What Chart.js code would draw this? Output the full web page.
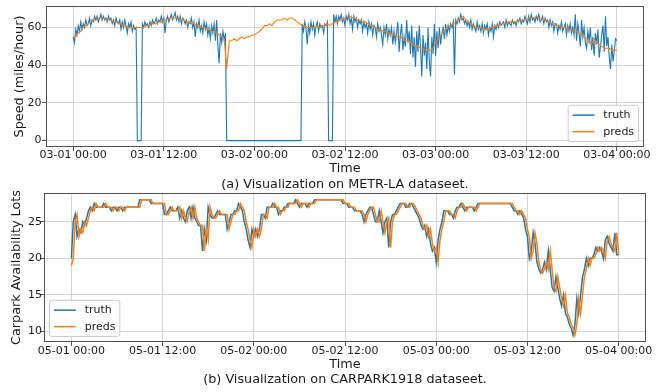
<!DOCTYPE html>
<html>
<head>
<meta charset="utf-8">
<script src="https://cdn.jsdelivr.net/npm/chart.js@4.4.1/dist/chart.umd.min.js"></script>
<style>
  html, body { margin: 0; padding: 0; background: #ffffff; }
  body { width: 670px; height: 392px; position: relative; overflow: hidden; }
  canvas { position: absolute; left: 0; }
  #speedChart { top: 0; }
  #carparkChart { top: 188px; }
</style>
</head>
<body>
<canvas id="speedChart" width="670" height="196"></canvas>
<canvas id="carparkChart" width="670" height="204"></canvas>
<script>
// ---- tick positions (hours from the start of each window) and their labels ----
const tickHours = [0, 12, 24, 36, 48, 60, 72];
const speedTickLabels = ['03-01 00:00', '03-01 12:00', '03-02 00:00', '03-02 12:00', '03-03 00:00', '03-03 12:00', '03-04 00:00'];
const carparkTickLabels = ['05-01 00:00', '05-01 12:00', '05-02 00:00', '05-02 12:00', '05-03 00:00', '05-03 12:00', '05-04 00:00'];

// ---- METR-LA sensor speed, truth every 10 minutes (one row per hour) ----
const speedTruthStepMinutes = 10;
const speedTruth = [
  55, 52, 59, 56, 61, 58,
  63, 59, 62, 60, 64, 61,
  62, 65, 61, 64, 63, 66,
  64, 66, 63, 65, 67, 64,
  66, 64, 65, 63, 66, 64,
  65, 62, 64, 61, 65, 63,
  62, 64, 59, 63, 60, 64,
  61, 57, 62, 60, 63, 58,
  61, 59, 60, 0, 0, 0,
  0, 62, 60, 63, 61, 62,
  60, 63, 61, 64, 62, 63,
  65, 62, 64, 63, 66, 63,
  65, 57, 64, 66, 63, 65,
  67, 64, 66, 68, 64, 66,
  63, 66, 62, 65, 64, 62,
  64, 60, 63, 62, 65, 60,
  63, 55, 62, 60, 64, 58,
  61, 57, 63, 59, 62, 56,
  60, 54, 61, 57, 62, 53,
  64, 50, 41, 57, 52, 58,
  53, 57, 0, 0, 0, 0,
  0, 0, 0, 0, 0, 0,
  0, 0, 0, 0, 0, 0,
  0, 0, 0, 0, 0, 0,
  0, 0, 0, 0, 0, 0,
  0, 0, 0, 0, 0, 0,
  0, 0, 0, 0, 0, 0,
  0, 0, 0, 0, 0, 0,
  0, 0, 0, 0, 0, 0,
  0, 0, 0, 0, 0, 0,
  0, 0, 62, 58, 63, 60,
  51, 61, 57, 63, 59, 62,
  56, 61, 63, 58, 62, 60,
  61, 57, 62, 61, 63, 0,
  0, 0, 0, 67, 63, 66,
  62, 66, 64, 67, 63, 65,
  61, 66, 64, 67, 62, 65,
  59, 66, 63, 65, 60, 64,
  62, 64, 58, 63, 60, 62,
  57, 63, 59, 62, 56, 61,
  60, 55, 62, 58, 60, 56,
  51, 60, 56, 62, 54, 59,
  56, 60, 51, 58, 52, 57,
  63, 47, 56, 62, 48, 55,
  50, 64, 52, 58, 46, 61,
  44, 55, 39, 58, 47, 61,
  50, 34, 56, 45, 52, 38,
  60, 42, 34, 55, 46, 62,
  45, 58, 49, 60, 51, 57,
  60, 54, 62, 56, 61, 58,
  62, 60, 63, 35, 64, 62,
  65, 63, 67, 64, 65, 62,
  64, 61, 63, 60, 64, 59,
  62, 60, 58, 63, 59, 61,
  58, 62, 57, 61, 59, 62,
  56, 60, 58, 62, 55, 61,
  59, 62, 60, 63, 61, 62,
  63, 60, 64, 61, 63, 62,
  61, 64, 62, 63, 61, 64,
  63, 65, 62, 64, 63, 66,
  64, 62, 66, 63, 67, 64,
  65, 63, 66, 64, 67, 63,
  64, 66, 62, 65, 63, 64,
  60, 64, 61, 63, 58, 62,
  62, 57, 61, 59, 63, 58,
  60, 62, 56, 61, 58, 62,
  57, 60, 56, 67, 53, 62,
  57, 50, 64, 55, 60, 52,
  49, 58, 53, 60, 48, 55,
  45, 57, 51, 59, 44, 50,
  56, 61, 47, 66, 50, 55,
  44, 38, 51, 42, 48, 54,
  53
];

// ---- METR-LA model predictions every 20 minutes ----
const speedPredsStepMinutes = 20;
const speedPreds = [
  55, 55, 57,   58, 60, 61,   62, 63, 64,   64, 65, 65,
  65, 64, 64,   64, 63, 63,   62, 62, 61,   61, 60, 60,
  60, 60, 60,   60, 60, 61,   61, 62, 62,   62, 63, 63,
  64, 64, 65,   65, 65, 65,   65, 64, 64,   63, 63, 62,
  62, 61, 61,   60, 60, 59,   59, 58, 58,   57, 56, 55,
  54, 38, 53,   53, 54, 53,   54, 55, 54,   55, 55, 56,
  56, 57, 58,   59, 61, 61,   62, 61, 63,   64, 64, 64,
  65, 64, 65,   65, 64, 63,   62, 61, 61,   60, 60, 60,
  60, 61, 60,   61, 61, 62,   61, 62, 63,   63, 64, 64,
  65, 66, 66,   65, 65, 64,   64, 63, 63,   62, 61, 61,
  60, 59, 59,   58, 58, 57,   57, 56, 56,   55, 55, 54,
  53, 53, 52,   51, 50, 50,   49, 49, 48,   48, 48, 49,
  52, 54, 56,   58, 59, 61,   61, 62, 63,   64, 65, 66,
  64, 63, 62,   61, 60, 60,   60, 59, 59,   59, 60, 60,
  61, 61, 62,   62, 62, 63,   63, 63, 63,   64, 64, 64,
  64, 65, 65,   65, 66, 65,   65, 64, 64,   63, 62, 62,
  61, 61, 60,   60, 60, 59,   59, 58, 58,   57, 56, 55,
  54, 52, 51,   54, 52, 51,   50, 49, 49,   49, 48, 48,
  48
];

// ---- CARPARK1918 available lots every 15 minutes (one row per hour) ----
const carparkStepMinutes = 15;
const carparkTruth = [
  20, 25, 26, 23,
  24, 23.5, 25, 24.5,
  25.5, 26.5, 27, 26.5,
  27.5, 27, 27, 27,
  27, 27.5, 27, 27,
  27, 26.5, 27, 27,
  26.5, 27, 27, 26.5,
  27, 27, 27, 27,
  27, 27, 27, 27,
  28, 28, 28, 28,
  28, 28, 27.5, 27.5,
  27.5, 27.5, 27.5, 27.5,
  27.5, 26, 26, 26.5,
  27, 26.5, 26.5, 26.5,
  27, 25.5, 26.5, 25.5,
  25, 26.5, 27, 25.5,
  27, 25.5, 25, 24.5,
  24.5, 21, 24, 22.5,
  27, 26, 25.5, 25.5,
  26, 26.5, 26, 26,
  26, 26, 24, 25,
  26, 26, 26.5, 26.5,
  27.5, 27, 26.5, 25,
  24, 22.5, 21.5, 24,
  23, 24, 23, 24,
  26, 26, 25.5, 27,
  27, 27, 27.5, 27,
  27, 26, 26.5, 26.5,
  27, 27, 27.5, 27.5,
  27.5, 27.5, 28, 27.5,
  27, 27.5, 27.5, 27.5,
  27, 27.5, 27.5, 27.5,
  28, 28, 28, 28,
  28, 28, 28, 28,
  28, 28, 28, 28,
  28, 28, 28, 27.5,
  27.5, 27.5, 27, 27,
  27, 26.5, 26.5, 26.5,
  26.5, 26, 25, 26,
  26.5, 27, 27, 26,
  25, 25, 26.5, 25,
  23.5, 25, 25.5, 21.5,
  25, 26, 26, 26.5,
  27, 27.5, 27.5, 27.5,
  27, 27, 27.5, 27.5,
  27, 26.5, 26, 25.5,
  24.5, 24, 24.5, 23,
  24, 22, 21, 21.5,
  19.5, 22.5, 24, 25,
  26.5, 26.5, 26.5, 26,
  26, 25.5, 26.5, 27,
  27, 27.5, 27, 26.5,
  27, 27, 27, 27,
  26.5, 27, 27.5, 27.5,
  27.5, 27.5, 27.5, 27.5,
  27.5, 27.5, 27.5, 27.5,
  27.5, 27.5, 27.5, 27.5,
  27.5, 27.5, 27.5, 27.5,
  27, 26.5, 26.5, 26,
  26.5, 26, 25.5, 24,
  23, 20, 21, 23.5,
  22, 19.5, 18.5, 18,
  18.5, 19.5, 18.5, 21,
  18.5, 16, 15.5, 17.5,
  16, 14.5, 13.5, 15,
  12.5, 12, 11, 10.5,
  9.5, 11, 14.5, 12.5,
  15, 17.5, 18.5, 20,
  19, 20, 20, 20.5,
  21.5, 21, 21.5, 21,
  20, 22.5, 23, 22,
  21.5, 21, 23.5, 20.5,
  20.5
];

// ---- CARPARK1918 model predictions every 15 minutes ----
const carparkPreds = [
  19, 20, 25, 26,
  23, 24, 23.5, 25,
  24.5, 25.5, 26.5, 27,
  26.5, 27.5, 27, 27,
  27, 27, 27.5, 27,
  27, 27, 26.5, 27,
  27, 26.5, 27, 27,
  26.5, 27, 27, 27,
  27, 27, 27, 27,
  27, 28, 28, 28,
  28, 28, 28, 27.5,
  27.5, 27.5, 27.5, 27.5,
  27.5, 27.5, 26, 26,
  26.5, 27, 26.5, 26.5,
  26.5, 27, 25.5, 26.5,
  25.5, 25, 26.5, 27,
  25.5, 27, 25.5, 25,
  24.5, 24.5, 21, 24,
  22.5, 27, 26, 25.5,
  25.5, 26, 26.5, 26,
  26, 26, 26, 24,
  25, 26, 26, 26.5,
  26.5, 27.5, 27, 26.5,
  25, 24, 22.5, 21.5,
  24, 23, 24, 23,
  24, 26, 26, 25.5,
  27, 27, 27, 27.5,
  27, 27, 26, 26.5,
  26.5, 27, 27, 27.5,
  27.5, 27.5, 27.5, 28,
  27.5, 27, 27.5, 27.5,
  27.5, 27, 27.5, 27.5,
  27.5, 28, 28, 28,
  28, 28, 28, 28,
  28, 28, 28, 28,
  28, 28, 28, 28,
  27.5, 27.5, 27.5, 27,
  27, 27, 26.5, 26.5,
  26.5, 26.5, 26, 25,
  26, 26.5, 27, 27,
  26, 25, 25, 26.5,
  25, 23.5, 25, 25.5,
  21.5, 25, 26, 26,
  26.5, 27, 27.5, 27.5,
  27.5, 27, 27, 27.5,
  27.5, 27, 26.5, 26,
  25.5, 24.5, 24, 24.5,
  23, 24, 22, 21,
  21.5, 19.5, 22.5, 24,
  25, 26.5, 26.5, 26.5,
  26, 26, 25.5, 26.5,
  27, 27, 27.5, 27,
  26.5, 27, 27, 27,
  27, 26.5, 27, 27.5,
  27.5, 27.5, 27.5, 27.5,
  27.5, 27.5, 27.5, 27.5,
  27.5, 27.5, 27.5, 27.5,
  27.5, 27.5, 27.5, 27.5,
  27.5, 27, 26.5, 26.5,
  26, 26.5, 26, 25.5,
  24, 23, 20, 21,
  23.5, 22, 19.5, 18.5,
  18, 18.5, 19.5, 18.5,
  21, 18.5, 16, 15.5,
  17.5, 16, 14.5, 13.5,
  15, 12.5, 12, 11,
  10.5, 9.5, 11, 14.5,
  12.5, 15, 17.5, 18.5,
  20, 19, 20, 20,
  20.5, 21.5, 21, 21.5,
  21, 20, 22.5, 23,
  22, 21.5, 21, 23.5,
  20.5
];

// ---- styling ----
const FONT = 'DejaVu Sans';
const TEXT = '#1a1a1a';
const GRID = '#d4d4d4';
const SPINE = '#505050';
const BLUE = '#1f77b4';
const ORANGE = '#ff7f0e';

// pairs each sample with its time in hours
function toPoints(values, stepMinutes) {
  return values.map((v, i) => ({ x: i * stepMinutes / 60, y: v }));
}

// closed rectangle around the plotting area
const axesFramePlugin = {
  id: 'axesFrame',
  afterDatasetsDraw(chart, args, opts) {
    const { ctx, chartArea: a } = chart;
    ctx.save();
    ctx.strokeStyle = opts.color;
    ctx.lineWidth = 1;
    const l = Math.round(a.left) + 0.5, t = Math.round(a.top) + 0.5;
    const r = Math.round(a.right) - 0.5, b = Math.round(a.bottom) - 0.5;
    ctx.strokeRect(l, t, r - l, b - t);
    ctx.restore();
  }
};

// legend box placed inside a corner of the plotting area
const boxLegendPlugin = {
  id: 'boxLegend',
  afterDraw(chart, args, opts) {
    const { ctx, chartArea: a } = chart;
    const fs = opts.fontSize;
    ctx.save();
    ctx.font = fs + 'px "' + FONT + '"';
    const items = chart.data.datasets.slice().sort((p, q) => p.legendRank - q.legendRank)
      .map(d => ({ label: d.label, color: d.borderColor }));
    const pad = 0.4 * fs, handle = 2 * fs, gap = 0.8 * fs, rowGap = 0.5 * fs, margin = 0.5 * fs;
    const textW = Math.max(...items.map(it => ctx.measureText(it.label).width));
    const w = pad * 2 + handle + gap + textW;
    const h = pad * 2 + items.length * fs + (items.length - 1) * rowGap;
    const x = opts.corner === 'right' ? a.right - margin - w : a.left + margin;
    const y = a.bottom - margin - h;
    ctx.beginPath();
    if (ctx.roundRect) ctx.roundRect(x, y, w, h, 2.5); else ctx.rect(x, y, w, h);
    ctx.fillStyle = 'rgba(255,255,255,0.8)';
    ctx.fill();
    ctx.strokeStyle = '#cccccc';
    ctx.lineWidth = 1;
    ctx.stroke();
    items.forEach((it, k) => {
      const cy = y + pad + fs / 2 + k * (fs + rowGap);
      ctx.beginPath();
      ctx.moveTo(x + pad, cy);
      ctx.lineTo(x + pad + handle, cy);
      ctx.strokeStyle = it.color;
      ctx.lineWidth = 1.5;
      ctx.stroke();
      ctx.fillStyle = TEXT;
      ctx.textBaseline = 'middle';
      ctx.textAlign = 'left';
      ctx.fillText(it.label, x + pad + handle + gap, cy + 0.5);
    });
    ctx.restore();
  }
};

function buildChart(canvas, spec) {
  const tickFont = { family: FONT, size: 11, lineHeight: 1 };
  const titleFont = { family: FONT, size: 12.8, lineHeight: 1.2, weight: 'normal' };
  return new Chart(canvas, {
    type: 'line',
    data: {
      datasets: [
        { label: 'truth', data: spec.truth, borderColor: BLUE, borderWidth: spec.lineWidth, order: 1, legendRank: 0 },
        { label: 'preds', data: spec.preds, borderColor: ORANGE, borderWidth: spec.lineWidth, order: 0, legendRank: 1 }
      ]
    },
    options: {
      responsive: false,
      animation: false,
      events: [],
      elements: { point: { radius: 0 }, line: { tension: 0, fill: false } },
      layout: { padding: spec.padding },
      scales: {
        x: {
          type: 'linear',
          min: spec.xMin, max: spec.xMax,
          afterBuildTicks: s => { s.ticks = tickHours.map(v => ({ value: v })); },
          afterFit: s => { s.height = spec.xAxisHeight; },
          ticks: {
            autoSkip: false, maxRotation: 0, minRotation: 0,
            font: tickFont, color: TEXT, padding: spec.xTickPad,
            callback: (v, i) => spec.tickLabels[i]
          },
          grid: { color: GRID, lineWidth: 1, tickColor: SPINE, tickLength: 4 },
          border: { display: false },
          title: { display: true, text: 'Time', font: titleFont, color: TEXT, padding: 0 }
        },
        y: {
          type: 'linear',
          min: spec.yMin, max: spec.yMax,
          afterBuildTicks: s => { s.ticks = spec.yTicks.map(v => ({ value: v })); },
          afterFit: s => { s.width = spec.yAxisWidth; },
          ticks: { font: tickFont, color: TEXT, padding: spec.yTickPad },
          grid: { color: GRID, lineWidth: 1, tickColor: SPINE, tickLength: 4 },
          border: { display: false },
          title: { display: true, text: spec.yTitle, font: titleFont, color: TEXT, padding: { top: spec.yTitlePad, bottom: 0 } }
        }
      },
      plugins: {
        legend: { display: false },
        tooltip: { enabled: false },
        title: {
          display: true, position: 'bottom', fullSize: false,
          text: spec.caption, font: titleFont, color: TEXT, padding: 0
        },
        axesFrame: { color: SPINE },
        boxLegend: { corner: spec.legendCorner, fontSize: 11 }
      }
    },
    plugins: [axesFramePlugin, boxLegendPlugin]
  });
}

buildChart(document.getElementById('speedChart'), {
  truth: toPoints(speedTruth, speedTruthStepMinutes),
  preds: toPoints(speedPreds, speedPredsStepMinutes),
  tickLabels: speedTickLabels,
  lineWidth: 1.1,
  padding: { left: 0, right: 26, top: 1, bottom: 3.8 },
  xAxisHeight: 29.8,
  yAxisWidth: 46,
  xMin: -3.6, xMax: 75.6,
  yMin: -3.4, yMax: 71.4,
  yTicks: [0, 20, 40, 60],
  xTickPad: -1.2,
  yTickPad: 0.5,
  yTitle: 'Speed (miles/hour)',
  yTitlePad: 12.3,
  caption: '(a) Visualization on METR-LA dataseet.',
  legendCorner: 'right'
});

buildChart(document.getElementById('carparkChart'), {
  truth: toPoints(carparkTruth, carparkStepMinutes),
  preds: toPoints(carparkPreds, carparkStepMinutes),
  tickLabels: carparkTickLabels,
  lineWidth: 1.5,
  padding: { left: 0, right: 24, top: 5, bottom: 4.3 },
  xAxisHeight: 30.3,
  yAxisWidth: 44,
  xMin: -3.6, xMax: 75.6,
  yMin: 8.57, yMax: 28.93,
  yTicks: [10, 15, 20, 25],
  xTickPad: -0.5,
  yTickPad: -2,
  yTitle: 'Carpark Availability Lots',
  yTitlePad: 9.3,
  caption: '(b) Visualization on CARPARK1918 dataseet.',
  legendCorner: 'left'
});
</script>
</body>
</html>
